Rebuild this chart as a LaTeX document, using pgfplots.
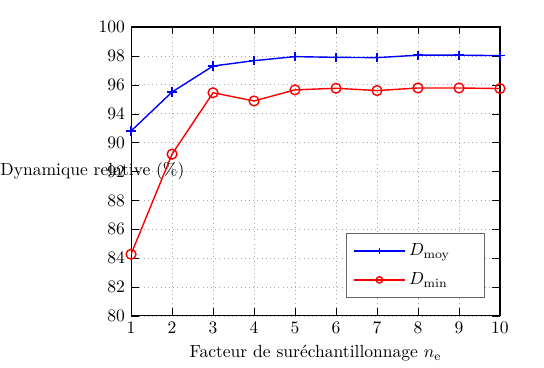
\documentclass[border=0pt]{standalone}
\usepackage{pgfplots}
\pgfplotsset{compat=1.18}
\begin{document}
\begin{tikzpicture}
\begin{axis}[
  name=ax,
  scale only axis,
  width=210.3pt, height=164.7pt,
  xmin=1, xmax=10, ymin=80, ymax=100,
  xtick={1,...,10},
  ytick={80,82,...,100},
  yticklabels={80,82,84,86,88,92,90,94,96,98,100},
  grid=major,
  grid style={dotted, gray!70},
  axis line style={black, semithick},
  tick style={black},
  xlabel={Facteur de suréchantillonnage $n_{\mathrm{e}}$},
  every axis y label/.style={at={(axis description cs:-0.355,0.5)}, anchor=west, inner xsep=0pt},
  ylabel={Dynamique relative (\%)},
  legend style={at={(0.959,0.062)}, anchor=south east, draw=gray!80!black, fill=white, row sep=4pt, inner xsep=4pt, inner ysep=4pt, font=\normalsize},
  legend cell align=left,
  legend image code/.code={\draw[mark repeat=2,mark phase=2,#1,mark size=1.8pt] plot coordinates {(0pt,0pt)(14.5pt,0pt)(29pt,0pt)};},
]
\addplot[blue, thick, mark=+, mark size=2.6pt] coordinates {
(1,92.8) (2,95.5) (3,97.3) (4,97.67) (5,97.95) (6,97.9) (7,97.88) (8,98.05) (9,98.05) (10,98.02)};
\addlegendentry{\makebox[37pt][l]{$D_{\mathrm{moy}}$}}
\addplot[red, thick, mark=o, mark size=2.8pt] coordinates {
(1,84.27) (2,91.2) (3,95.45) (4,94.88) (5,95.65) (6,95.76) (7,95.6) (8,95.78) (9,95.78) (10,95.74)};
\addlegendentry{\makebox[37pt][l]{$D_{\mathrm{min}}$}}
\end{axis}
\path ([shift={(-74.7pt,-27.9pt)}]ax.south west) rectangle ([shift={(25.1pt,15.4pt)}]ax.north east);
\end{tikzpicture}
\end{document}
